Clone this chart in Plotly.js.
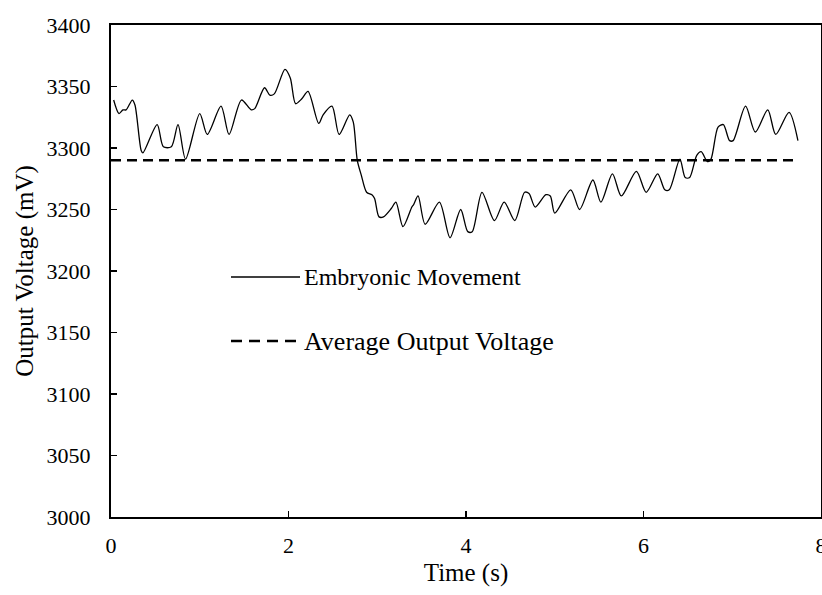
<!DOCTYPE html>
<html>
<head>
<meta charset="utf-8">
<script src="https://cdn.plot.ly/plotly-3.0.1.min.js"></script>
<style>html,body{margin:0;padding:0;background:#fff;}#chart{width:822px;height:595px;}</style>
</head>
<body>
<div id="chart"></div>
<script>
// Embryonic movement signal (time in s, voltage in mV)
const timeS = [0.03,0.09,0.135,0.17,0.24,0.27,0.34,0.36,0.52,0.59,0.68,0.755,0.84,1.0,1.085,1.24,1.33,1.47,1.58,1.62,1.73,1.79,1.84,1.96,2.02,2.08,2.15,2.22,2.34,2.39,2.49,2.57,2.69,2.73,2.775,2.82,2.88,2.94,2.97,3.02,3.07,3.16,3.21,3.29,3.39,3.41,3.46,3.54,3.70,3.82,3.94,4.02,4.07,4.18,4.32,4.43,4.55,4.66,4.71,4.78,4.90,4.95,5.00,5.18,5.28,5.43,5.52,5.65,5.75,5.92,6.03,6.16,6.24,6.29,6.41,6.47,6.52,6.60,6.65,6.72,6.76,6.84,6.90,6.97,7.01,7.15,7.26,7.40,7.49,7.64,7.74];
const voltageMV = [3339,3328,3331,3331,3339,3335,3298,3296,3319,3301,3301,3319,3291,3328,3311,3334,3311,3339,3331,3332,3349,3343,3344,3364,3357,3336,3340,3346,3320,3327,3334,3311,3327,3321,3290,3278,3264,3262,3259,3244,3244,3251,3256,3236,3252,3254,3261,3238,3256,3227,3250,3232,3232,3264,3241,3256,3241,3264,3263,3252,3262,3261,3247,3266,3250,3274,3256,3279,3261,3281,3264,3279,3266,3266,3291,3276,3276,3294,3297,3289,3291,3317,3319,3306,3306,3334,3313,3331,3311,3329,3306];
// Average output voltage
const avgTime = [0, 7.73];
const avgVoltage = [3290, 3290];
const seriesNames = ["Embryonic Movement", "Average Output Voltage"];
const xTicks = [0, 2, 4, 6, 8];
const yTicks = [3000, 3050, 3100, 3150, 3200, 3250, 3300, 3350, 3400];

const fam = '"Liberation Serif", "Times New Roman", serif';
const tickFont = {family: fam, size: 22, color: '#000'};
const titleFont = {family: fam, size: 25, color: '#000'};
const legFont = {family: fam, size: 24, color: '#000'};

const traces = [
  {x: timeS, y: voltageMV, type: 'scatter', mode: 'lines', name: seriesNames[0],
   line: {color: '#000', width: 1.3, shape: 'spline', smoothing: 0.8}, showlegend: false},
  {x: avgTime, y: avgVoltage, type: 'scatter', mode: 'lines', name: seriesNames[1],
   line: {color: '#000', width: 2.5, dash: '10px,6px'}, showlegend: false}
];

const layout = {
  width: 822, height: 595,
  margin: {l: 111, r: 1, t: 25, b: 78},
  paper_bgcolor: '#fff', plot_bgcolor: '#fff',
  font: tickFont,
  showlegend: false,
  xaxis: {range: [0, 8], tickvals: xTicks, ticktext: xTicks.map(String),
    ticks: 'inside', ticklen: 6, tickwidth: 1.5, tickcolor: '#000',
    showline: true, linecolor: '#000', linewidth: 2, mirror: true,
    showgrid: false, zeroline: false, ticklabelstandoff: 8, ticklabeloverflow: 'allow',
    title: {text: 'Time (s)', font: titleFont, standoff: 6}},
  yaxis: {range: [3000, 3400], tickvals: yTicks, ticktext: yTicks.map(String),
    ticks: 'inside', ticklen: 6, tickwidth: 1.5, tickcolor: '#000',
    showline: true, linecolor: '#000', linewidth: 2, mirror: true,
    showgrid: false, zeroline: false, ticklabelstandoff: 14, ticklabeloverflow: 'allow',
    title: {text: 'Output Voltage (mV)', font: titleFont, standoff: 6}},
  shapes: [
    {type: 'line', xref: 'paper', yref: 'paper', x0: (231-111)/710, x1: (300-111)/710,
     y0: (517-277)/492, y1: (517-277)/492, line: {color: '#000', width: 1.3}},
    {type: 'line', xref: 'paper', yref: 'paper', x0: (231-111)/710, x1: (298-111)/710,
     y0: (517-341)/492, y1: (517-341)/492, line: {color: '#000', width: 2.5, dash: '11px,7px'}}
  ],
  annotations: [
    {xref: 'paper', yref: 'paper', x: (302-111)/710, y: (517-277)/492, xanchor: 'left', yanchor: 'middle',
     text: seriesNames[0], showarrow: false, font: legFont},
    {xref: 'paper', yref: 'paper', x: (302-111)/710, y: (517-341)/492, xanchor: 'left', yanchor: 'middle',
     text: seriesNames[1], showarrow: false, font: {family: fam, size: 26, color: '#000'}}
  ]
};

Plotly.newPlot('chart', traces, layout, {displayModeBar: false, staticPlot: true});
</script>
</body>
</html>
